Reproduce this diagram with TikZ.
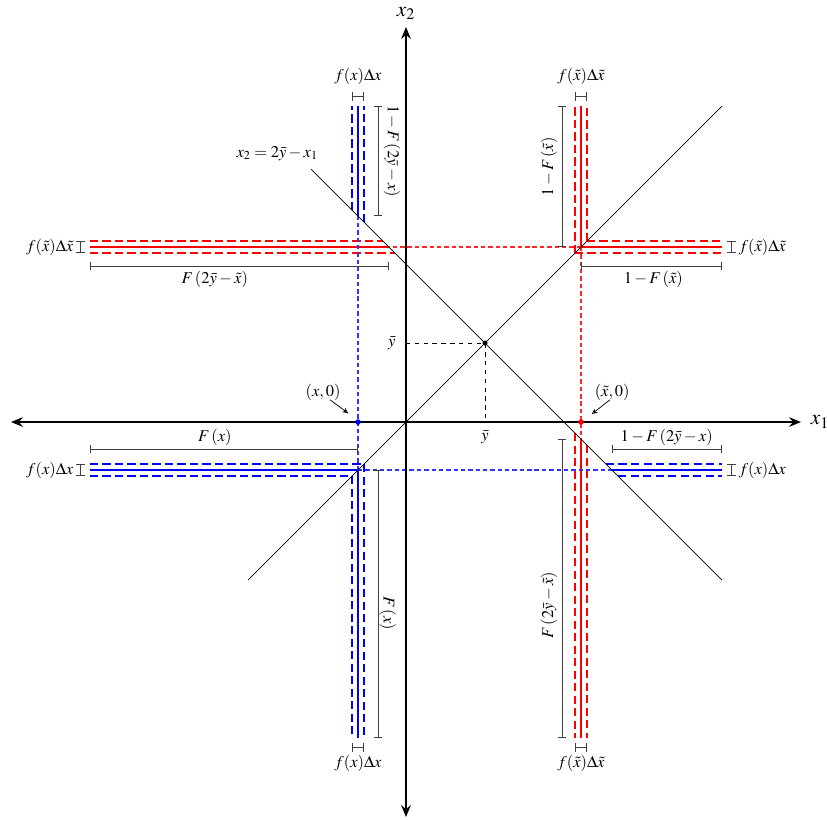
\documentclass[tikz,border=0pt]{standalone}
\usepackage{mathptmx}
\usetikzlibrary{arrows.meta}
\begin{document}
\begin{tikzpicture}[x=1.888cm,y=1.888cm,
  axisline/.style={line width=1.4pt,{Stealth[length=8pt,width=6.5pt]}-{Stealth[length=8pt,width=6.5pt]}},
  thinline/.style={line width=0.5pt},
  dimline/.style={draw=black!75,line width=0.5pt,{Bar[width=5.5pt]}-{Bar[width=5.5pt]}},
  bandsolid/.style={line width=1.05pt},
  banddash/.style={line width=1.05pt,dash pattern=on 5.5pt off 3pt},
  guide/.style={line width=0.75pt,dash pattern=on 3pt off 2pt},
  lab/.style={inner sep=1pt,font=\fontsize{11.2}{13}\selectfont}]
\useasboundingbox (-5.139,-5.025) rectangle (5.329,5.342);

% named points
\coordinate (O) at (0,0);
\coordinate (Xl) at (-5,0);
\coordinate (Xr) at (5,0);
\coordinate (Yb) at (0,-5);
\coordinate (Yt) at (0,5);
\coordinate (M) at (1,1);
\coordinate (My) at (0,1);
\coordinate (Mx) at (1,0);
\coordinate (Pr) at (2.2151,0);
\coordinate (Pb) at (-0.6076,0);
\coordinate (Dlo) at (-2,-2);
\coordinate (Dhi) at (4,4);
\coordinate (Alo) at (4,-2);
\coordinate (Ahi) at (-1.2,3.2);

% red bands (x tilde)
\draw[bandsolid,draw=red] (2.2151,2.2151) -- (2.2151,4);
\draw[bandsolid,draw=red] (2.2151,2.2151) -- (4,2.2151);
\draw[bandsolid,draw=red] (-4,2.2151) -- (-0.2151,2.2151);
\draw[bandsolid,draw=red] (2.2151,-0.2151) -- (2.2151,-4);
\draw[banddash,draw=red] (2.1392,2.1392) -- (2.1392,4);
\draw[banddash,draw=red] (2.2911,2.2911) -- (2.2911,4);
\draw[banddash,draw=red] (2.1392,2.1392) -- (4,2.1392);
\draw[banddash,draw=red] (2.2911,2.2911) -- (4,2.2911);
\draw[banddash,draw=red] (-4,2.1392) -- (-0.1392,2.1392);
\draw[banddash,draw=red] (-4,2.2911) -- (-0.2911,2.2911);
\draw[banddash,draw=red] (2.1392,-0.1392) -- (2.1392,-4);
\draw[banddash,draw=red] (2.2911,-0.2911) -- (2.2911,-4);

% blue bands (x)
\draw[bandsolid,draw=blue] (-4,-0.6076) -- (-0.6076,-0.6076);
\draw[bandsolid,draw=blue] (-0.6076,-0.6076) -- (-0.6076,-4);
\draw[bandsolid,draw=blue] (-0.6076,2.6076) -- (-0.6076,4);
\draw[bandsolid,draw=blue] (2.6076,-0.6076) -- (4,-0.6076);
\draw[banddash,draw=blue] (-4,-0.6835) -- (-0.6835,-0.6835);
\draw[banddash,draw=blue] (-4,-0.5316) -- (-0.5316,-0.5316);
\draw[banddash,draw=blue] (-0.6835,-0.6835) -- (-0.6835,-4);
\draw[banddash,draw=blue] (-0.5316,-0.5316) -- (-0.5316,-4);
\draw[banddash,draw=blue] (-0.6835,2.6835) -- (-0.6835,4);
\draw[banddash,draw=blue] (-0.5316,2.5316) -- (-0.5316,4);
\draw[banddash,draw=blue] (2.6835,-0.6835) -- (4,-0.6835);
\draw[banddash,draw=blue] (2.5316,-0.5316) -- (4,-0.5316);

% guide lines
\draw[guide,draw=red!85] (2.2151,2.2151) -- (-0.2151,2.2151);
\draw[guide,draw=red!85] (2.2151,2.2151) -- (2.2151,-0.2151);
\draw[guide,draw=blue!80] (-0.6076,-0.6076) -- (2.6076,-0.6076);
\draw[guide,draw=blue!80] (-0.6076,-0.6076) -- (-0.6076,2.6076);

% diagonals
\draw[thinline] (Dlo) -- (Dhi);
\draw[thinline] (Ahi) -- (Alo);

% ybar dashed
\draw[thinline,dashed] (My) -- (M) -- (Mx);

% axes
\draw[axisline] (Xl) -- (Xr);
\draw[axisline] (Yb) -- (Yt);
\node[inner sep=1pt] (x1lab) at (5.24,0) {\Large $x_1$};
\node[inner sep=1pt] (x2lab) at (0,5.17) {\Large $x_2$};

% points
\fill[black] (M) circle (0.032);
\fill[red] (Pr) circle (0.035);
\fill[blue] (Pb) circle (0.035);

\node[lab] (ybl) at (-0.18,1) {$\bar y$};
\node[lab] (ybb) at (1,-0.19) {$\bar y$};
\node[lab] (eq) at (-1.63,3.40) {$x_2=2\bar y-x_1$};
\node[lab] (pblab) at (-1.05,0.37) {$(x,0)$};
\node[lab] (prlab) at (2.61,0.37) {$(\tilde x,0)$};
\draw[thinline,-{Stealth[length=4pt,width=3.5pt,open]}] (-0.96,0.28) -- (-0.73,0.11);
\draw[thinline,-{Stealth[length=4pt,width=3.5pt,open]}] (2.58,0.28) -- (2.35,0.10);

% width brackets
\draw[dimline] (-0.6835,4.12) -- (-0.5316,4.12);
\node[lab] (wtl) at (-0.6076,4.37) {$f(x)\Delta x$};
\draw[dimline] (2.1392,4.12) -- (2.2911,4.12);
\node[lab] (wtr) at (2.2151,4.37) {$f(\tilde x)\Delta\tilde x$};
\draw[dimline] (-0.6835,-4.12) -- (-0.5316,-4.12);
\node[lab] (wbl) at (-0.6076,-4.32) {$f(x)\Delta x$};
\draw[dimline] (2.1392,-4.12) -- (2.2911,-4.12);
\node[lab] (wbr) at (2.2151,-4.32) {$f(\tilde x)\Delta\tilde x$};
\draw[dimline] (-4.12,2.1392) -- (-4.12,2.2911);
\node[lab,anchor=east] (wlr) at (-4.19,2.2151) {$f(\tilde x)\Delta\tilde x$};
\draw[dimline] (-4.12,-0.6835) -- (-4.12,-0.5316);
\node[lab,anchor=east] (wlb) at (-4.19,-0.6076) {$f(x)\Delta x$};
\draw[dimline] (4.12,2.1392) -- (4.12,2.2911);
\node[lab,anchor=west] (wrr) at (4.19,2.2151) {$f(\tilde x)\Delta\tilde x$};
\draw[dimline] (4.12,-0.6835) -- (4.12,-0.5316);
\node[lab,anchor=west] (wrb) at (4.19,-0.6076) {$f(x)\Delta x$};

% length brackets
\draw[dimline] (-4,1.975) -- (-0.2151,1.975);
\node[lab] (lrl) at (-2.42,1.80) {$F\left(2\bar y-\tilde x\right)$};
\draw[dimline] (2.2151,1.975) -- (4,1.975);
\node[lab] (lrr) at (3.13,1.80) {$1-F\left(\tilde x\right)$};
\draw[dimline] (-4,-0.34) -- (-0.6076,-0.34);
\node[lab] (lbl) at (-2.42,-0.20) {$F\left(x\right)$};
\draw[dimline] (2.6076,-0.34) -- (4,-0.34);
\node[lab] (lbr) at (3.3,-0.20) {$1-F\left(2\bar y-x\right)$};

\draw[dimline] (-0.35,2.6076) -- (-0.35,4);
\node[lab,rotate=-90] (lbt) at (-0.177,3.43) {$1-F\left(2\bar y-x\right)$};
\draw[dimline] (1.975,2.2151) -- (1.975,4);
\node[lab,rotate=90] (lrt) at (1.81,3.23) {$1-F\left(\tilde x\right)$};
\draw[dimline] (-0.35,-0.6076) -- (-0.35,-4);
\node[lab,rotate=-90] (lbb) at (-0.23,-2.42) {$F\left(x\right)$};
\draw[dimline] (1.975,-0.2151) -- (1.975,-4);
\node[lab,rotate=90] (lrb) at (1.81,-2.32) {$F\left(2\bar y-\tilde x\right)$};
\end{tikzpicture}
\end{document}
